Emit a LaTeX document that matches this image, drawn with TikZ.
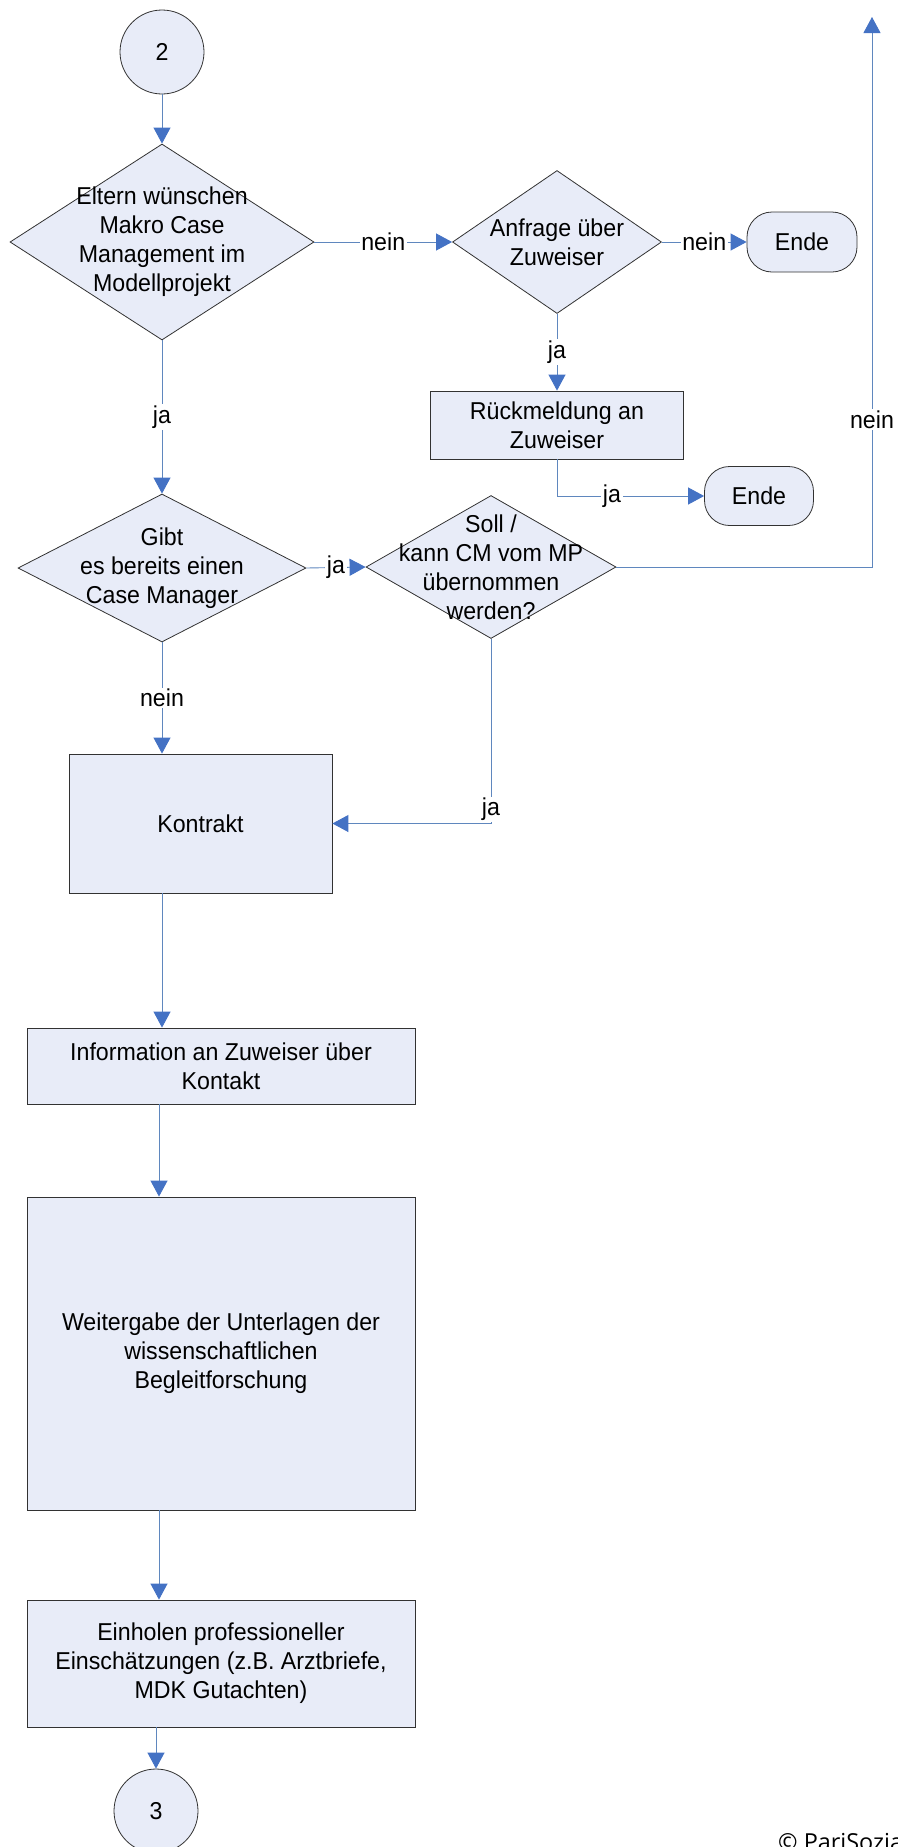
\documentclass[tikz,border=0pt]{standalone}
\usepackage{fontspec}
\setmainfont[FakeStretch=0.95]{Liberation Sans}
\newfontfamily\cfont{Open Sans}
\usetikzlibrary{shapes.geometric,arrows.meta}
\definecolor{fillc}{RGB}{232,236,248}
\definecolor{linec}{RGB}{95,135,190}
\definecolor{arrc}{RGB}{68,114,196}
\definecolor{bordc}{RGB}{50,50,50}
\begin{document}
\begin{tikzpicture}[x=1bp,y=-1bp,
 font=\fontsize{24.5}{29}\selectfont,
 box/.style={draw=bordc, line width=0.8bp, fill=fillc, rectangle, inner sep=0pt, align=center},
 dia/.style={draw=bordc, line width=0.8bp, fill=fillc, diamond, inner sep=0pt},
 rnd/.style={box, rounded corners=25bp},
 circ/.style={draw=bordc, line width=0.8bp, fill=fillc, circle, minimum size=84bp, inner sep=0pt},
 txt/.style={align=center, inner sep=0pt},
 conn/.style={draw=linec, line width=0.9bp, -{Triangle[length=16bp,width=17bp,color=arrc]}},
 lbl/.style={fill=white, inner sep=1.5bp, text=black},
]
\useasboundingbox (0,0) rectangle (898,1847);
\clip (0,0) rectangle (898,1847);

% nodes
\node[circ] (c2) at (162,52) {2};
\node[dia, minimum width=304bp, minimum height=196bp] (d1) at (162,242) {};
\node[txt] (t1) at (d1.center) {Eltern wünschen\\Makro Case\\Management im\\Modellprojekt};
\node[dia, minimum width=209bp, minimum height=143bp] (d2) at (557,242) {};
\node[txt] (t2) at (d2.center) {Anfrage über\\Zuweiser};
\node[rnd, minimum width=110bp, minimum height=60bp] (e1) at (802,242) {Ende};
\node[box, minimum width=253bp, minimum height=68bp] (r1) at (557,425) {Rückmeldung an\\Zuweiser};
\node[rnd, minimum width=109bp, minimum height=59bp] (e2) at (759,496) {Ende};
\node[dia, minimum width=288bp, minimum height=148bp] (d3) at (162,568) {};
\node[txt] (t3) at (d3.center) {Gibt\\es bereits einen\\Case Manager};
\node[dia, minimum width=250bp, minimum height=143bp] (d4) at (491,567) {};
\node[txt] (t4) at (d4.center) {Soll /\\kann CM vom MP\\übernommen\\werden?};
\node[box, minimum width=263bp, minimum height=139bp] (k) at (200.5,823.5) {Kontrakt};
\node[box, minimum width=388bp, minimum height=76bp] (i) at (221,1066) {Information an Zuweiser über\\Kontakt};
\node[box, minimum width=388bp, minimum height=313bp] (w) at (221,1353.5) {Weitergabe der Unterlagen der\\wissenschaftlichen\\Begleitforschung};
\node[box, minimum width=388bp, minimum height=127bp] (ei) at (221,1663.5) {Einholen professioneller\\Einschätzungen (z.B. Arztbriefe,\\MDK Gutachten)};
\node[circ] (c3) at (156,1811) {3};
\coordinate (top) at (872,17);
\node[anchor=base west, inner sep=0pt, font=\cfont\fontsize{23.5}{28}\selectfont] (copy) at (778,1850) {© PariSozial};

% connectors
\draw[conn] (c2.south) -- (d1.north);
\draw[conn] (d1.east) -- node[lbl]{nein} (d2.west);
\draw[conn] (d2.east) -- node[lbl]{nein} (e1.west);
\draw[conn] (d2.south) -- node[lbl]{ja} (r1.north);
\draw[conn] (r1.south) |- node[lbl, pos=0.687]{ja} (e2.west);
\draw[conn] (d1.south) -- node[lbl]{ja} (d3.north);
\draw[conn] (d3.east) -- node[lbl]{ja} (d4.west);
\draw[conn] (d4.east) -| node[lbl, pos=0.634]{nein} (top);
\draw[conn] (d3.south) -- node[lbl]{nein} (d3.south |- k.north);
\draw[conn] (d4.south) -- node[lbl, pos=0.924]{ja} (d4.south |- k.east) -- (k.east);
\draw[conn] (k.south -| d3.south) -- (i.north -| d3.south);
\draw[conn] ([xshift=-62bp]i.south) -- ([xshift=-62bp]w.north);
\draw[conn] ([xshift=-62bp]w.south) -- ([xshift=-62bp]ei.north);
\draw[conn] (ei.south -| c3.north) -- (c3.north);
\end{tikzpicture}
\end{document}
